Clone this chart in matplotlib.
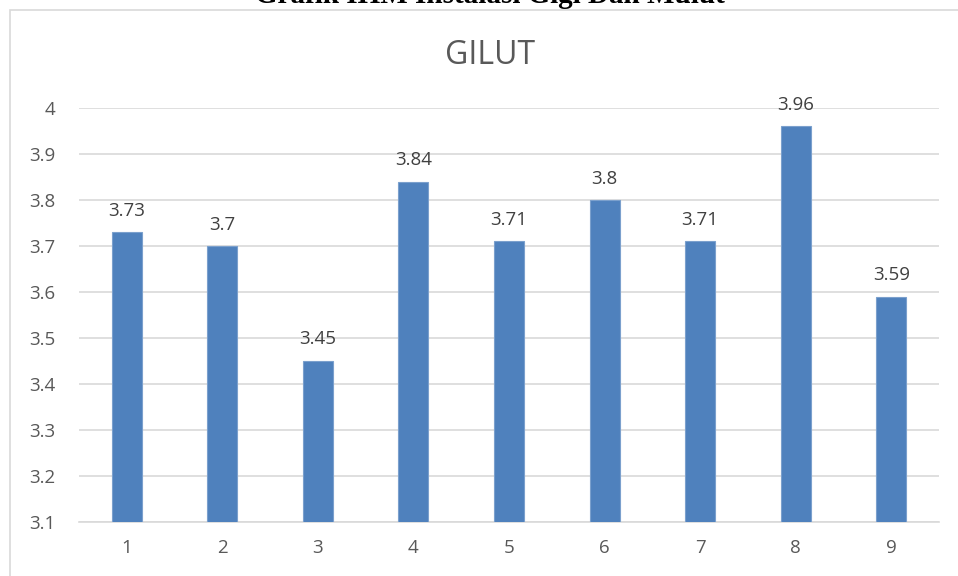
import matplotlib.pyplot as plt
from matplotlib.patches import Rectangle

categories = ["1", "2", "3", "4", "5", "6", "7", "8", "9"]
values = [3.73, 3.7, 3.45, 3.84, 3.71, 3.8, 3.71, 3.96, 3.59]
y_ticks = [3.1, 3.2, 3.3, 3.4, 3.5, 3.6, 3.7, 3.8, 3.9, 4.0]
tick_labels = ["3.1", "3.2", "3.3", "3.4", "3.5", "3.6", "3.7", "3.8", "3.9", "4"]

W, H = 958, 576
fig = plt.figure(figsize=(W / 100, H / 100), dpi=100)
fig.patch.set_facecolor("white")

# chart border, cut off at right and bottom like the screenshot
fig.add_artist(Rectangle((10 / W, -0.05), 1.0, 1 - 10 / H + 0.05, transform=fig.transFigure,
                         fill=False, edgecolor="#d9d9d9", linewidth=1.2))

# document caption, mostly clipped by the top edge
fig.text(490 / W, 1 - 3 / H, "Grafik IHM Instalasi Gigi Dan Mulut", ha="center", va="baseline",
         fontsize=21, family="Liberation Serif", fontweight="bold", color="black")

ax = fig.add_axes([79 / W, 1 - 522 / H, 860 / W, 414 / H])
x = list(range(len(categories)))
ax.bar(x, values, width=0.315, bottom=0, color="#4f81bd", edgecolor="#7ba0cd", linewidth=0.8, zorder=3)

ax.set_xlim(-0.5, len(categories) - 0.5)
ax.set_ylim(3.1, 4.0)
ax.set_yticks(y_ticks)
ax.set_yticklabels(tick_labels)
ax.set_xticks(x)
ax.set_xticklabels(categories)
ax.grid(axis="y", color="#d9d9d9", linewidth=1.2, zorder=0)
for s in ["left", "right", "top"]:
    ax.spines[s].set_visible(False)
ax.spines["bottom"].set_color("#d9d9d9")
ax.spines["bottom"].set_linewidth(1.2)
ax.tick_params(length=0, labelsize=13.5, labelcolor="#595959")
ax.tick_params(axis="y", pad=17)
ax.tick_params(axis="x", pad=12)
for lab in ax.get_yticklabels() + ax.get_xticklabels():
    lab.set_family("Open Sans")

for xi, v in zip(x, values):
    ax.annotate(f"{v:g}", (xi, v), xytext=(0, 9), textcoords="offset points",
                ha="center", va="bottom", fontsize=13.5, color="#404040", family="Open Sans")

fig.text(490 / W, 1 - 55 / H, "GILUT", ha="center", va="center", fontsize=23,
         color="#595959", family="Open Sans")

fig.savefig("out.png", dpi=100)
